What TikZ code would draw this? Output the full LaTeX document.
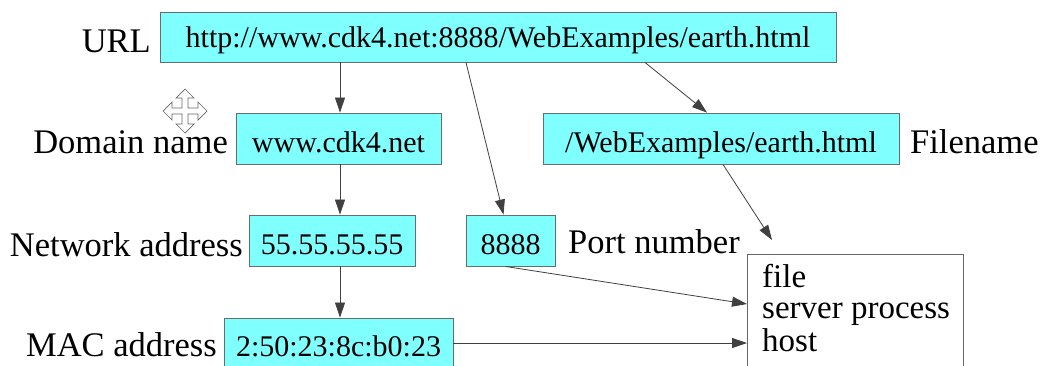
\documentclass[tikz,border=0pt]{standalone}
\usepackage{fontspec}
\setmainfont{Liberation Serif}
\usetikzlibrary{arrows.meta,calc}
\definecolor{boxfill}{RGB}{128,255,255}
\definecolor{boxline}{RGB}{100,110,110}
\tikzset{
  cbox/.style={draw=boxline, fill=boxfill, line width=0.9pt, inner sep=0pt,
    text depth=0pt, text height=27pt,
    font=\fontsize{30}{32}\selectfont},
  lbl/.style={font=\fontsize{34.5}{36}\selectfont, inner sep=0pt, anchor=base east},
  rlbl/.style={font=\fontsize{34.5}{36}\selectfont, inner sep=0pt, anchor=base west},
  rtxt/.style={font=\fontsize{33}{35}\selectfont, inner sep=0pt, anchor=base west},
  arr/.style={draw=black!75, line width=0.8pt, -{Triangle[length=15pt,width=10pt]}},
}
\begin{document}
\begin{tikzpicture}[x=1pt,y=-1pt]
\useasboundingbox (0,0) rectangle (1043,365);
\clip (0,0) rectangle (1043,365);
\fill[white] (0,0) rectangle (1043,365);
% boxes
\node[cbox, text height=20pt, minimum width=676, minimum height=50] (url) at (498,37) {http://www.cdk4.net:8888/WebExamples/earth.html};
\node[cbox, minimum width=205, minimum height=51] (dom) at (338.5,138.5) {www.cdk4.net};
\node[cbox, minimum width=356, minimum height=51] (fname) at (721,138.5) {/WebExamples/earth.html};
\node[cbox, minimum width=166, minimum height=51] (net) at (332,240.5) {55.55.55.55};
\node[cbox, minimum width=89, minimum height=51] (port) at (510.5,240.5) {8888};
\node[cbox, minimum width=229, minimum height=50] (mac) at (338.5,343) {2:50:23:8c:b0:23};
\node[draw=black!60, line width=0.9pt, anchor=north west, minimum width=216, minimum height=160, inner sep=0pt] (rbox) at (747,254) {};
% labels
\node[lbl] (lurl) at (151,52) {URL};
\node[lbl] (ldom) at (228,153) {Domain name};
\node[lbl] (lnet) at (243,256) {Network address};
\node[lbl] (lmac) at (217,356) {MAC address};
\node[rlbl] (lfname) at (910,153) {Filename};
\node[rlbl] (lport) at (568,253) {Port number};
\node[rtxt] (t1) at (762,287) {file};
\node[rtxt] (t2) at (762,318) {server process};
\node[rtxt] (t3) at (762,351) {host};
% connectors
\coordinate (fend) at (772,240);
\draw[arr] (url.south -| 340,0) -- (dom.north -| 340,0);
\draw[arr] (dom.south -| 340,0) -- (net.north -| 340,0);
\draw[arr] (net.south -| 340,0) -- (mac.north -| 340,0);
\draw[arr] ($(url.south)+(-32,0)$) -- ($(port.north)+(-7,0)$);
\draw[arr] ($(url.south)+(147,0)$) -- ($(fname.north)+(-14,0)$);
\draw[arr] ($(fname.south)+(2,0)$) -- (fend);
\draw[arr] ($(port.south)+(-5,0)$) -- ($(rbox.north west)+(0,50)$);
\draw[arr] (mac.east) -- (mac.east -| rbox.west);
% move cursor
\begin{scope}[shift={(185,111)}]
\draw[fill=white, draw=black!60, line width=0.7pt, line join=miter]
 (0,-22) -- (9,-13) -- (3,-13) -- (3,-3) -- (13,-3) -- (13,-9) -- (22,0) -- (13,9) -- (13,3) -- (3,3) -- (3,13) -- (9,13) -- (0,22) -- (-9,13) -- (-3,13) -- (-3,3) -- (-13,3) -- (-13,9) -- (-22,0) -- (-13,-9) -- (-13,-3) -- (-3,-3) -- (-3,-13) -- (-9,-13) -- cycle;
\end{scope}
\end{tikzpicture}
\end{document}
